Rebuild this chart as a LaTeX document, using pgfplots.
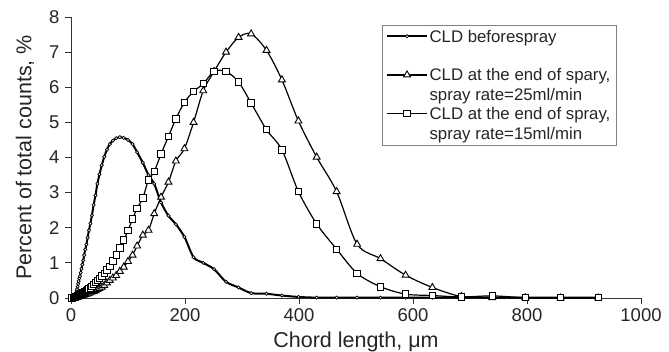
\documentclass[border=0pt]{standalone}
\usepackage{fontspec}
\setmainfont{Liberation Sans}
\usepackage{pgfplots}
\usepackage{pgfplotstable}
\pgfplotsset{compat=1.18}
\pgfplotstableread{
x     before  rA    rB
2     0.00    0.00  0.00
4     0.02    0.01  0.01
6     0.05    0.01  0.02
8     0.12    0.02  0.03
9.9   0.20    0.02  0.04
10.7  0.25    0.03  0.05
11.6  0.32    0.03  0.06
12.5  0.40    0.04  0.07
13.5  0.48    0.04  0.08
14.6  0.56    0.05  0.09
15.7  0.62    0.05  0.10
17    0.72    0.06  0.11
18.4  0.83    0.07  0.12
19.8  0.95    0.07  0.14
21.4  1.07    0.08  0.15
23.1  1.22    0.09  0.17
25    1.38    0.10  0.19
27    1.52    0.11  0.21
29.2  1.72    0.12  0.23
31.5  1.93    0.14  0.26
34    2.12    0.15  0.29
36.7  2.35    0.17  0.33
39.7  2.65    0.19  0.38
42.9  2.92    0.21  0.44
46.3  3.25    0.24  0.50
50    3.52    0.27  0.56
54    3.78    0.31  0.63
58.3  4.02    0.36  0.70
63    4.22    0.43  0.80
68    4.38    0.50  0.90
73.4  4.48    0.57  1.05
79.3  4.55    0.64  1.22
85.7  4.58    0.76  1.42
92.5  4.56    0.88  1.65
100   4.50    1.04  1.92
108   4.38    1.22  2.25
116   4.15    1.48  2.55
126   3.85    1.79  2.85
136   3.50    1.93  3.36
146   3.25    2.40  3.60
158   2.72    2.87  4.10
171   2.34    3.30  4.60
184   2.10    3.90  5.10
199   1.74    4.25  5.57
215   1.16    5.00  5.88
232   1.00    5.90  6.10
251   0.82    6.45  6.45
272   0.46    7.00  6.45
294   0.30    7.42  6.15
316   0.14    7.52  5.55
343   0.12    7.05  4.79
370   0.07    6.21  4.22
399   0.03    5.04  3.03
431   0.01    4.01  2.11
466   0.01    3.03  1.39
502   0.01    1.53  0.70
543   0.01    1.12  0.32
587   0.01    0.65  0.11
634   0.01    0.30  0.07
685   0.01    0.04  0.03
739   0.01    0.01  0.06
797   0.01    0.01  0.01
859   0.01    0.00  0.01
925   0.01    0.00  0.01
}\cld
\begin{document}
\begin{tikzpicture}
\begin{axis}[
  at={(0,0)}, anchor=south west,
  scale only axis, width=570pt, height=281pt,
  xmin=0, xmax=1000, ymin=0, ymax=8,
  clip=false,
  axis lines=left,
  axis line style={-, line width=0.9pt, black!80},
  xtick={0,200,...,1000}, ytick={0,1,...,8},
  tick align=outside, major tick length=6pt,
  tick style={line width=0.8pt, black!80},
  /pgf/number format/assume math mode=true,
  /pgf/number format/1000 sep={},
  ticklabel style={font=\fontsize{18.5}{20}\selectfont, text=black!85},
  yticklabel style={xshift=-2pt},
  xticklabel style={yshift=-1pt},
  xlabel={Chord length, μm},
  ylabel={Percent of total counts, \%},
  label style={font=\fontsize{21.5}{24}\selectfont, text=black!85},
  xlabel style={at={(axis description cs:0.5,-0.1555)}, anchor=center},
  ylabel style={at={(axis description cs:-0.0807,0.5)}, anchor=center},
  legend cell align=left,
  legend style={at={(0.545,0.9715)}, anchor=north west, draw=gray, line width=0.8pt,
    inner xsep=4pt, inner ysep=3pt, row sep=2pt,
    font=\fontsize{16.8}{20}\selectfont,
    nodes={inner sep=1.5pt, align=left, text=black!85}},
  legend image code/.code={%
    \draw[#1, mark repeat=2, mark phase=2] plot coordinates {(0pt,10.5pt) (20pt,10.5pt) (40pt,10.5pt)};},
]
\addplot[black, line width=2pt, smooth, mark=*, mark size=1.6pt,
  mark options={fill=white, line width=0.7pt, solid}] table[x=x, y=before] {\cld};
\addlegendentry{CLD beforespray\\\mbox{}}
\addplot[black, line width=1.2pt, smooth, mark=triangle*, mark size=4pt,
  mark options={fill=white, line width=0.9pt, solid}] table[x=x, y=rA] {\cld};
\addlegendentry{CLD at the end of spary,\\spray rate=25ml/min}
\addplot[black, line width=1.2pt, smooth, mark=square*, mark size=3.2pt,
  mark options={fill=white, line width=0.9pt, solid}] table[x=x, y=rB] {\cld};
\addlegendentry{CLD at the end of spray,\\spray rate=15ml/min}
\end{axis}
\pgfresetboundingbox
\path[use as bounding box] (-71pt,-54pt) rectangle (598pt,298pt);
\end{tikzpicture}
\end{document}
